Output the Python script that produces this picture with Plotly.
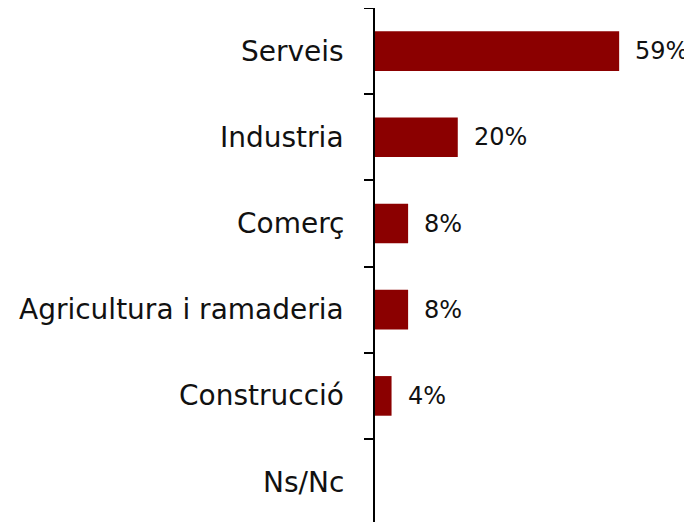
import plotly.graph_objects as go

categories = ["Serveis", "Industria", "Comerç", "Agricultura i ramaderia", "Construcció", "Ns/Nc"]
values = [59, 20, 8, 8, 4, None]
labels = ["59%", "20%", "8%", "8%", "4%", ""]

bar_color = "#8B0000"
font_family = "DejaVu Sans"
pos = list(range(len(categories)))

fig = go.Figure()
fig.add_trace(go.Bar(
    y=pos, x=values, orientation="h", width=0.46,
    marker=dict(color=bar_color, line=dict(width=0)),
    showlegend=False, hoverinfo="skip"))

annotations = []
for i, cat in enumerate(categories):
    annotations.append(dict(x=0, y=i, xref="x", yref="y", text=cat, showarrow=False,
                            xanchor="right", yanchor="middle", xshift=-29,
                            font=dict(family=font_family, size=28, color="#111")))
for i, (v, lab) in enumerate(zip(values, labels)):
    if v is None or not lab:
        continue
    annotations.append(dict(x=v, y=i, xref="x", yref="y", text=lab, showarrow=False,
                            xanchor="left", yanchor="middle", xshift=14,
                            font=dict(family=font_family, size=24, color="#111")))

# the page body adds an 8px offset, so the figure is drawn 8px smaller
fig.update_layout(
    width=684, height=514,
    margin=dict(l=367, r=0, t=0, b=0),
    plot_bgcolor="white", paper_bgcolor="white",
    xaxis=dict(range=[0, 76.6], visible=False, fixedrange=True),
    yaxis=dict(range=[5.463, -0.5], tickmode="linear", tick0=-0.5, dtick=1,
               showticklabels=False, ticks="outside", ticklen=9, tickwidth=2, tickcolor="black",
               showline=True, linecolor="black", linewidth=2, showgrid=False,
               zeroline=False, fixedrange=True),
    annotations=annotations,
)
# plotly drops the tick sitting on the top edge, so draw that one by hand
fig.add_shape(type="line", xref="paper", yref="y", x0=-9 / 317, x1=0, y0=-0.5, y1=-0.5,
              line=dict(color="black", width=2), layer="above")

fig.write_html("out.html", config={"displayModeBar": False})
